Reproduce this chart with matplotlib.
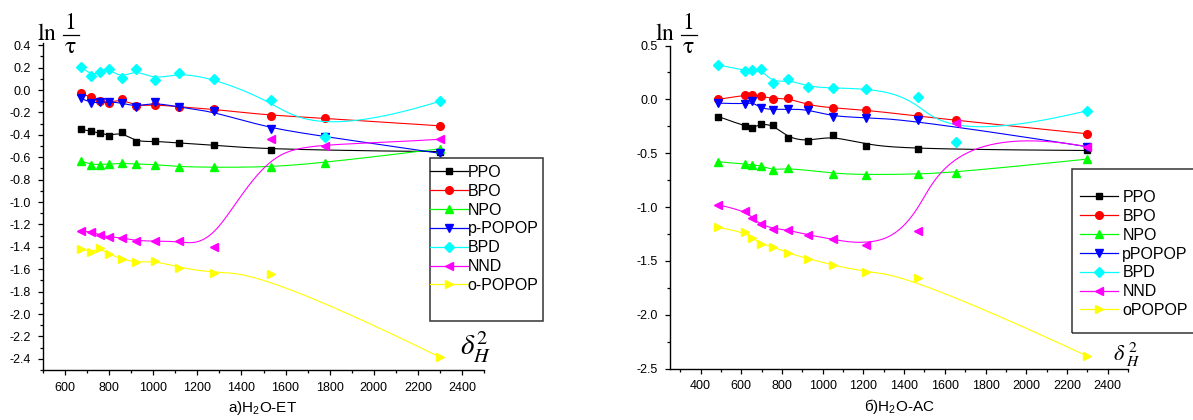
import matplotlib
matplotlib.use('Agg')
import matplotlib.pyplot as plt
from matplotlib.lines import Line2D
from matplotlib.patches import Rectangle
from matplotlib.ticker import MultipleLocator
import numpy as np

plt.rcParams['font.family'] = ['Liberation Sans', 'DejaVu Sans']
plt.rcParams['axes.unicode_minus'] = False
plt.rcParams['mathtext.fontset'] = 'custom'
plt.rcParams['mathtext.rm'] = 'Liberation Sans'
plt.rcParams['mathtext.it'] = 'Liberation Sans:italic'

# ---- a) H2O-ET ----
x_et = [673, 718, 757, 800, 857, 923, 1006, 1118, 1274, 1532, 1779, 2300]
x_et_no1779 = [673, 718, 757, 800, 857, 923, 1006, 1118, 1274, 1532, 2300]
et_ppo = [-0.35, -0.37, -0.38, -0.41, -0.375, -0.465, -0.455, -0.475, -0.49, -0.535, -0.55]
et_bpo = [-0.03, -0.065, -0.095, -0.115, -0.08, -0.145, -0.13, -0.15, -0.17, -0.23, -0.25, -0.32]
et_npo = [-0.635, -0.665, -0.665, -0.66, -0.655, -0.66, -0.665, -0.685, -0.69, -0.69, -0.65, -0.525]
et_ppopop = [-0.075, -0.115, -0.11, -0.105, -0.115, -0.15, -0.11, -0.155, -0.19, -0.35, -0.415, -0.565]
et_bpd = [0.21, 0.125, 0.165, 0.19, 0.105, 0.185, 0.09, 0.155, 0.10, -0.09, -0.415, -0.10]
et_nnd = [-1.26, -1.265, -1.295, -1.31, -1.32, -1.345, -1.35, -1.35, -1.40, -0.44, -0.50, -0.44]
et_opopop = [-1.42, -1.445, -1.41, -1.465, -1.51, -1.54, -1.525, -1.585, -1.635, -1.645, -2.385]

# ---- б) H2O-AC ----
x_ac = [487, 620, 655, 695, 756, 832, 930, 1050, 1215, 1466, 1655, 2300]
x_ac_no1655 = [487, 620, 655, 695, 756, 832, 930, 1050, 1215, 1466, 2300]
x_ac_npo = [487, 620, 655, 695, 756, 832, 1050, 1215, 1466, 1655, 2300]
ac_ppo = [-0.16, -0.25, -0.265, -0.23, -0.235, -0.36, -0.39, -0.335, -0.43, -0.465, -0.475]
ac_bpo = [0.0, 0.04, 0.04, 0.03, 0.005, 0.01, -0.055, -0.08, -0.10, -0.155, -0.195, -0.32]
ac_npo = [-0.58, -0.60, -0.61, -0.615, -0.66, -0.635, -0.69, -0.70, -0.695, -0.68, -0.555]
ac_ppopop = [-0.035, -0.045, -0.02, -0.085, -0.095, -0.09, -0.095, -0.16, -0.17, -0.195, -0.44]
ac_bpd = [0.32, 0.265, 0.27, 0.285, 0.15, 0.185, 0.115, 0.105, 0.10, 0.025, -0.40, -0.105]
ac_nnd = [-0.98, -1.035, -1.105, -1.16, -1.20, -1.215, -1.26, -1.30, -1.355, -1.22, -0.22, -0.44]
ac_opopop = [-1.19, -1.235, -1.29, -1.34, -1.37, -1.43, -1.48, -1.54, -1.605, -1.655, -2.385]

colors = ['black', '#ff0000', '#00ff00', '#0000ff', '#00ffff', '#ff00ff', '#ffff00']
markers = ['s', 'o', '^', 'v', 'D', '<', '>']
msizes = [5, 5.5, 6, 6, 5.5, 6, 6]

et_series = [(x_et_no1779, et_ppo), (x_et, et_bpo), (x_et, et_npo), (x_et, et_ppopop),
             (x_et, et_bpd), (x_et, et_nnd), (x_et_no1779, et_opopop)]
ac_series = [(x_ac_no1655, ac_ppo), (x_ac, ac_bpo), (x_ac_npo, ac_npo), (x_ac_no1655, ac_ppopop),
             (x_ac, ac_bpd), (x_ac, ac_nnd), (x_ac_no1655, ac_opopop)]
et_labels = ['PPO', 'BPO', 'NPO', 'p-POPOP', 'BPD', 'NND', 'o-POPOP']
ac_labels = ['PPO', 'BPO', 'NPO', 'pPOPOP', 'BPD', 'NND', 'oPOPOP']


def bspline(x, y, n=300):
    # clamped uniform cubic B-spline with the points as control points (Origin style)
    P = np.column_stack([x, y]).astype(float)
    k = 3
    m = len(P)
    knots = np.concatenate([[0] * k, np.arange(m - k + 1), [m - k] * k]).astype(float)
    ts = np.linspace(0, m - k, n)
    ts[-1] -= 1e-9
    out = []
    for t in ts:
        i = min(np.searchsorted(knots, t, side='right') - 1, m - 1)
        d = [P[j + i - k].copy() for j in range(k + 1)]
        for r in range(1, k + 1):
            for j in range(k, r - 1, -1):
                a = (t - knots[j + i - k]) / (knots[j + 1 + i - r] - knots[j + i - k])
                d[j] = (1 - a) * d[j - 1] + a * d[j]
        out.append(d[k])
    return np.array(out)


fig = plt.figure(figsize=(11.93, 4.2), dpi=100)
W, H = 1193, 420


def setup(ax, xlim, ylim, ymaj, ymin):
    ax.set_xlim(*xlim)
    ax.set_ylim(*ylim)
    ax.spines['top'].set_visible(False)
    ax.spines['right'].set_visible(False)
    for s in ('left', 'bottom'):
        ax.spines[s].set_linewidth(1.0)
    ax.xaxis.set_major_locator(MultipleLocator(200))
    ax.xaxis.set_minor_locator(MultipleLocator(100))
    ax.yaxis.set_major_locator(MultipleLocator(ymaj))
    ax.yaxis.set_minor_locator(MultipleLocator(ymin))
    ax.tick_params(which='major', direction='out', length=3.5, width=0.9, labelsize=9, pad=5)
    ax.tick_params(which='minor', direction='out', length=2.2, width=0.9)


def draw(ax, series):
    for (xs, ys), c, m, ms in zip(series, colors, markers, msizes):
        curve = bspline(xs, ys)
        ax.plot(curve[:, 0], curve[:, 1], color=c, lw=0.8)
        ax.plot(xs, ys, ls='none', marker=m, ms=ms, color=c, mec=c)


def legend(labels, x0, y0, pad):
    handles = [Line2D([], [], color=c, lw=0.9, marker=m, ms=ms)
               for c, m, ms in zip(colors, markers, msizes)]
    fig.legend(handles, labels, loc='upper left', bbox_to_anchor=(x0 / W, 1 - y0 / H),
               frameon=False, fontsize=11.5, borderpad=0, borderaxespad=0,
               handlelength=2.35, handletextpad=pad, labelspacing=0.24)


def ln_label(x, y):
    # "ln" followed by a built-up fraction 1/tau, x/y = left edge / fraction bar in px
    kw = dict(fontsize=17, math_fontfamily='stix')
    fig.text(x / W, 1 - (y + 5) / H, r'$\mathrm{ln}$', ha='left', va='baseline', **kw)
    fig.text((x + 33) / W, 1 - (y - 1) / H, r'$\mathrm{1}$', ha='center', va='bottom', **kw)
    fig.text((x + 33) / W, 1 - (y + 1) / H, r'$\mathrm{\tau}$', ha='center', va='top', **kw)
    fig.add_artist(Line2D([(x + 26) / W, (x + 42) / W], [1 - y / H, 1 - y / H],
                          transform=fig.transFigure, color='black', lw=0.9))


ax1 = fig.add_axes([43 / W, 1 - 370 / H, 441 / W, 327 / H])
setup(ax1, (500, 2500), (-2.5, 0.42), 0.2, 0.1)
draw(ax1, et_series)

ax2 = fig.add_axes([670 / W, 1 - 368.5 / H, 458 / W, 323 / H])
setup(ax2, (250, 2500), (-2.5, 0.5), 0.5, 0.25)
draw(ax2, ac_series)

# legends with separate frames
fig.patches.append(Rectangle((430 / W, 1 - 321 / H), 113 / W, 163 / H, transform=fig.transFigure,
                             fill=False, ec='#333333', lw=1.1))
legend(et_labels, 430, 165, 0.0)
fig.patches.append(Rectangle((1072 / W, 1 - 333 / H), 125 / W, 164 / H, transform=fig.transFigure,
                             fill=False, ec='#333333', lw=1.1))
legend(ac_labels, 1080, 190, 0.3)

# axis captions
ln_label(37, 35)
ln_label(655, 35)
fig.text(460 / W, 1 - 347 / H, r'$\delta_{H}^{2}$', fontsize=21, ha='left', va='center',
         math_fontfamily='stix')
fig.text(1113 / W, 1 - 355 / H, r'$\delta\,{}_{H}^{\,2}$', fontsize=16, ha='left', va='center',
         math_fontfamily='stix')

fig.text(263 / W, 1 - 408 / H, r'a)H$_2$O-ET', fontsize=11, ha='center', va='center')
fig.text(899 / W, 1 - 407 / H, r'б)H$_2$O-AC', fontsize=11, ha='center', va='center')

fig.savefig('out.png', dpi=100, facecolor='white')
